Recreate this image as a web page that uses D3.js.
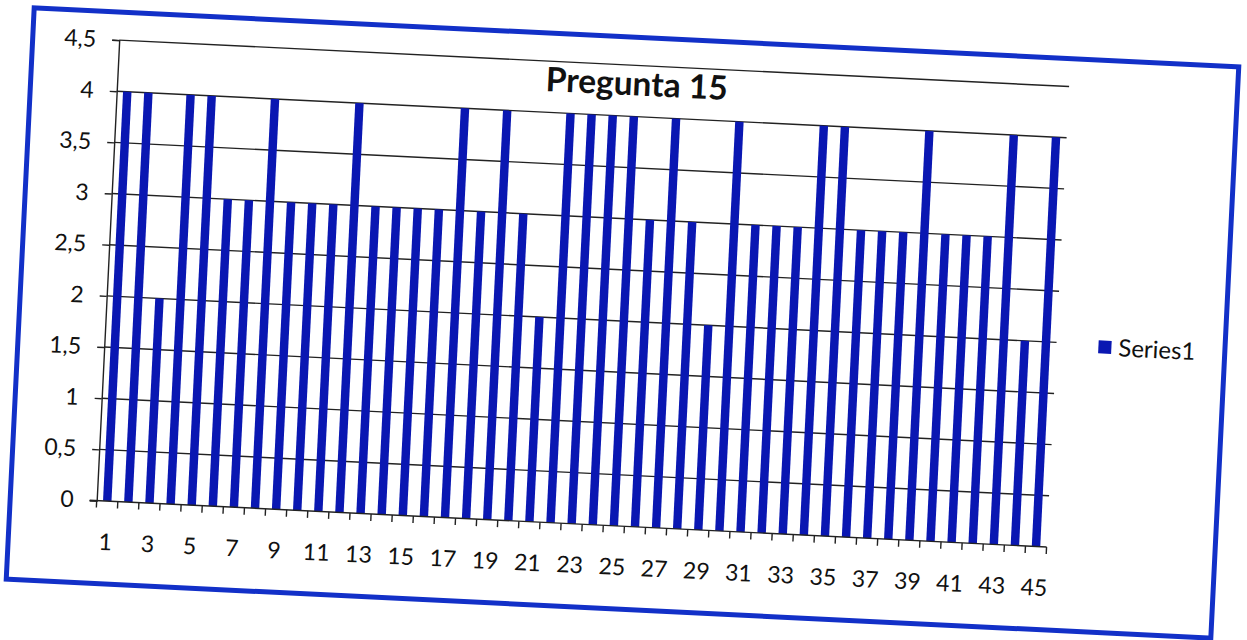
<!DOCTYPE html>
<html>
<head>
<meta charset="utf-8">
<script src="https://cdn.jsdelivr.net/npm/d3@7"></script>
<style>
  html, body { margin: 0; padding: 0; background: #ffffff; }
  svg { display: block; }
  text { font-family: Lato, "Open Sans", sans-serif; fill: #111; }
</style>
</head>
<body>
<svg id="chart" width="1247" height="640"></svg>
<script>
const title = "Pregunta 15";
const seriesName = "Series1";
const categories = d3.range(1, 46);
const values = [4,4,2,4,4,3,3,4,3,3,3,4,3,3,3,3,4,3,4,3,2,4,4,4,4,3,4,3,2,4,3,3,3,4,4,3,3,3,4,3,3,3,4,2,4];
const yTicks = [0, 0.5, 1, 1.5, 2, 2.5, 3, 3.5, 4, 4.5];
const yTickLabels = ["0", "0,5", "1", "1,5", "2", "2,5", "3", "3,5", "4", "4,5"];
const xTickLabels = categories.map(c => c % 2 === 1 ? String(c) : "");

const svg = d3.select("#chart");
const root = svg.append("g").attr("transform", "rotate(2.8, 622.5, 323)");

// frame
root.append("rect")
  .attr("x", 19.5).attr("y", 37).attr("width", 1206).attr("height", 572)
  .attr("fill", "#ffffff").attr("stroke", "#1230c8").attr("stroke-width", 5);

const plot = { left: 106, right: 1057, top: 65, bottom: 526 };

const x = d3.scaleBand().domain(categories).range([plot.left, plot.right]).paddingInner(0.6).paddingOuter(0.3);
const xb = d3.scaleBand().domain(categories).range([plot.left, plot.right]);
const y = d3.scaleLinear().domain([0, 4.5]).range([plot.bottom, plot.top]);

// gridlines
root.append("g").selectAll("line").data(yTicks.slice(1)).join("line")
  .attr("x1", plot.left).attr("x2", plot.right)
  .attr("y1", d => y(d)).attr("y2", d => y(d))
  .attr("stroke", "#222").attr("stroke-width", 1.4);

// bars
root.append("g").selectAll("rect").data(values).join("rect")
  .attr("x", (d, i) => x(categories[i]))
  .attr("width", x.bandwidth())
  .attr("y", d => y(d))
  .attr("height", d => y(0) - y(d))
  .attr("fill", "#0a17b2");

// y axis
const yAxis = d3.axisLeft(y).tickValues(yTicks)
  .tickFormat((d, i) => yTickLabels[i]).tickSize(7).tickPadding(16);
const gy = root.append("g").attr("transform", `translate(${plot.left},0)`).call(yAxis);
gy.select(".domain").attr("stroke", "#222").attr("stroke-width", 1.4);
gy.selectAll(".tick line").attr("stroke", "#222").attr("stroke-width", 1.4);
gy.selectAll(".tick text").attr("font-size", 23).attr("font-family", "Lato, sans-serif").attr("fill", "#111");

// x axis: ticks at category boundaries, labels under odd categories
const gx = root.append("g").attr("transform", `translate(0,${plot.bottom})`);
gx.append("line").attr("x1", plot.left - 7).attr("x2", plot.right)
  .attr("y1", 0).attr("y2", 0).attr("stroke", "#222").attr("stroke-width", 1.4);
const boundaries = categories.map(c => xb(c)).concat([plot.right]);
gx.selectAll("line.tk").data(boundaries).join("line").attr("class", "tk")
  .attr("x1", d => d).attr("x2", d => d).attr("y1", 0).attr("y2", 7)
  .attr("stroke", "#222").attr("stroke-width", 1.4);
gx.selectAll("text").data(categories).join("text")
  .attr("x", c => xb(c) + xb.bandwidth() / 2)
  .attr("y", 49)
  .attr("text-anchor", "middle")
  .attr("font-size", 23)
  .text((c, i) => xTickLabels[i]);

// title
root.append("text").attr("x", 625).attr("y", 95)
  .attr("text-anchor", "middle").attr("font-size", 33.5).attr("font-weight", 700)
  .text(title);

// legend
const lg = root.append("g").attr("transform", "translate(1099,317)");
lg.append("rect").attr("width", 13).attr("height", 13).attr("fill", "#0a17b2");
lg.append("text").attr("x", 20).attr("y", 15).attr("font-size", 24).text(seriesName);
</script>
</body>
</html>
